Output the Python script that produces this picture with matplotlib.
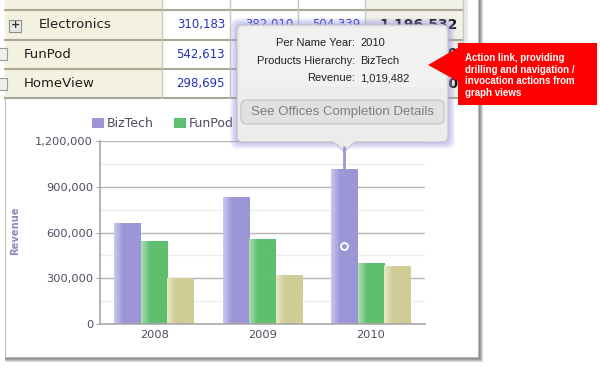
import numpy as np
import matplotlib
matplotlib.use("Agg")
import matplotlib.pyplot as plt
from matplotlib.colors import LinearSegmentedColormap
from matplotlib.patches import Rectangle, FancyBboxPatch, Polygon, Patch
from matplotlib.ticker import MultipleLocator, FuncFormatter

# chart data
years = ["2008", "2009", "2010"]
products = ["BizTech", "FunPod", "HomeView"]
biztech = [662000, 833000, 1019482]
funpod = [542613, 557000, 402157]
homeview = [298695, 322620, 378245]

# pivot table rows above the graph (cells hidden under the tooltip left blank)
table_rows = ["Electronics", "FunPod", "HomeView"]
table_2008 = ["310,183", "542,613", "298,695"]
table_2009 = ["382,010", "", ""]
table_2010 = ["504,339", "", ""]
table_total = ["1,196,532", "1,501,750", "999,560"]

tip_labels = ["Per Name Year:", "Products Hierarchy:", "Revenue:"]
tip_values = ["2010", "BizTech", "1,019,482"]
callout_lines = ["Action link, providing", "drilling and navigation /",
                 "invocation actions from", "graph views"]

plt.rcParams["font.family"] = ["DejaVu Sans"]
W, H = 600, 368
fig = plt.figure(figsize=(W / 100, H / 100), dpi=100)


def overlay(z):
    a = fig.add_axes([0, 0, 1, 1], zorder=z)
    a.set_xlim(0, W)
    a.set_ylim(H, 0)
    a.axis("off")
    a.patch.set_alpha(0)
    return a


bg = overlay(0)
ax = fig.add_axes([100 / W, 1 - 324 / H, 325 / W, 183 / H], zorder=1)
fg = overlay(2)

# panel with drop shadow
for d in range(1, 6):
    bg.add_patch(Rectangle((5, -10), 473 + d, 367 + d, fc="black", ec="none", alpha=0.14))
bg.add_patch(Rectangle((5, -10), 473, 367, fc="white", ec="#BDBDBD", lw=0.8))

# table
col_x = [5, 162, 230, 298, 365, 463]
row_y = [-20, 10, 39.5, 69, 98]
fills = ["#F3F1DF", "white", "white", "white", "#F1F1EA"]
for r in range(len(row_y) - 1):
    for c in range(len(col_x) - 1):
        bg.add_patch(Rectangle((col_x[c], row_y[r]), col_x[c + 1] - col_x[c],
                               row_y[r + 1] - row_y[r], fc=fills[c], ec="none"))
for y in row_y[1:]:
    bg.plot([5, 463], [y, y], color="#A9A794", lw=1.5)
for x in col_x[1:]:
    bg.plot([x, x], [-20, 98], color="#C9C8BC", lw=1)
bg.add_patch(Rectangle((463, -10), 5, 108, fc="#DDDDDD", ec="none", alpha=0.6))

bg.add_patch(Rectangle((9, 19.5), 12, 12, fc="#E9E9E4", ec="#8E8E8E", lw=0.8))
bg.text(15, 25.5, "+", ha="center", va="center", fontsize=8, fontweight="bold", color="#333333")
for r in (1, 2):
    yc = (row_y[r + 1] + row_y[r + 2]) / 2
    bg.add_patch(Rectangle((-4, yc - 6), 11, 12, fc="#EEEEEA", ec="#9A9A9A", lw=0.8))

for i, name in enumerate(table_rows):
    yc = (row_y[i + 1] + row_y[i + 2]) / 2
    bg.text(39 if i == 0 else 24, yc, name, ha="left", va="center", fontsize=9.5, color="#1E1E1E")
    for c, vals in enumerate([table_2008, table_2009, table_2010]):
        if vals[i]:
            bg.text(col_x[c + 2] - 5, yc, vals[i], ha="right", va="center", fontsize=8.5,
                    color="#2233BB")
    bg.text(col_x[5] - 5, yc, table_total[i], ha="right", va="center", fontsize=10,
            fontweight="bold", color="#111111")

# bar chart
colors = {
    "BizTech": ("#CBC7EE", "#9C96D7"),
    "FunPod": ("#ACDFB3", "#5EBF6F"),
    "HomeView": ("#E9E7C6", "#CFCC95"),
}
x = np.arange(len(years))
w = 0.245
grad = np.linspace(0, 1, 64).reshape(1, -1)
for k, (name, vals) in enumerate(zip(products, [biztech, funpod, homeview])):
    light, dark = colors[name]
    bars = ax.bar(x + (k - 1) * w, vals, w, color=dark, label=name, zorder=2)
    cmap = LinearSegmentedColormap.from_list(name, [light, dark, dark, dark])
    for b in bars:
        x0 = b.get_x()
        im = ax.imshow(grad, cmap=cmap, aspect="auto", interpolation="bilinear", zorder=2.1,
                       extent=(x0, x0 + b.get_width(), 0, b.get_height()))
        im.set_clip_path(b)

ax.plot(x[2] - w, biztech[2] / 2, "o", ms=5, mfc="#9C96D7", mec="white", mew=1.3, zorder=3)

ax.set_xlim(-0.5, 2.5)
ax.set_ylim(0, 1200000)
ax.set_xticks(x, years)
ax.yaxis.set_major_locator(MultipleLocator(300000))
ax.yaxis.set_minor_locator(MultipleLocator(150000))
ax.yaxis.set_major_formatter(FuncFormatter(lambda v, p: f"{int(v):,}"))
ax.set_axisbelow(True)
ax.grid(axis="y", which="major", color="#B4B4B4", lw=1)
ax.grid(axis="y", which="minor", color="#EEEEEE", lw=1)
ax.patch.set_alpha(0)
for s in ("top", "right"):
    ax.spines[s].set_visible(False)
for s in ("left", "bottom"):
    ax.spines[s].set_color("#A8A8A8")
    ax.spines[s].set_linewidth(1.2)
ax.tick_params(axis="y", which="major", length=3, color="#A8A8A8", pad=2,
               labelsize=8.2, labelcolor="#4C4C62")
ax.tick_params(axis="y", which="minor", length=0)
ax.tick_params(axis="x", length=0, pad=4, labelsize=8.2, labelcolor="#4C4C62")
ax.set_ylabel("Revenue", fontsize=7.2, fontweight="bold", color="#8C8ABA")
ax.yaxis.set_label_coords(-0.246, 0.508)

handles = [Patch(fc=colors[n][1], ec="none", label=n) for n in products]
ax.legend(handles=handles, ncol=3, loc="center left", bbox_to_anchor=(92, 123.5),
          bbox_transform=fg.transData, frameon=False, borderpad=0, borderaxespad=0,
          handlelength=0.95, handleheight=0.9, handletextpad=0.25, columnspacing=1.6,
          fontsize=9, labelcolor="#4C4C62")

# tooltip over the 2010 BizTech bar
to_px = fg.transData.inverted()
px, top_y = to_px.transform(ax.transData.transform((x[2] - w, biztech[2])))
tx0, ty0, tx1, ty1 = 237, 25, 448, 142
for g in range(7, 0, -1):
    fg.add_patch(FancyBboxPatch((tx0 - g, ty0 - g), tx1 - tx0 + 2 * g, ty1 - ty0 + 2 * g,
                                boxstyle="round,pad=0,rounding_size=8", fc="#9C94E2",
                                ec="none", alpha=0.1))
fg.plot([px, px], [ty1 + 4, top_y], color="#9C96D7", lw=2, solid_capstyle="butt")
fg.add_patch(Polygon([(px - 11, ty1 - 1), (px, ty1 + 10), (px + 11, ty1 - 1)],
                     fc="#ECECEC", ec="#C4C4C4", lw=0.8))
fg.add_patch(FancyBboxPatch((tx0, ty0), tx1 - tx0, ty1 - ty0,
                            boxstyle="round,pad=0,rounding_size=6", fc="#ECECEC",
                            ec="#C4C4C4", lw=0.8))
fg.add_patch(Rectangle((px - 10, ty1 - 2), 20, 2.5, fc="#ECECEC", ec="none"))
fg.add_patch(Rectangle((tx0 + 3, ty0 + 3), tx1 - tx0 - 6, 59, fc="#F1F1F1", ec="none"))
for i, (lab, val) in enumerate(zip(tip_labels, tip_values)):
    yy = 43 + i * 17.6
    fg.text(355, yy, lab, ha="right", va="center", fontsize=8, family="Liberation Sans", color="#222222")
    fg.text(360, yy, val, ha="left", va="center", fontsize=8, family="Liberation Sans", color="#222222")
fg.add_patch(FancyBboxPatch((241, 100), 203, 24, boxstyle="round,pad=0,rounding_size=6",
                            fc="#E1E1E1", ec="#C6C6C6", lw=0.9))
fg.text(342.5, 112.5, "See Offices Completion Details", ha="center", va="center",
        fontsize=9.5, family="Liberation Sans", color="#7E7E7E")

# red annotation callout
fg.add_patch(Polygon([(459, 47), (428, 65), (459, 82)], fc="#FF0000", ec="none"))
fg.add_patch(Rectangle((458, 43), 139, 62, fc="#FF0000", ec="none"))
for i, line in enumerate(callout_lines):
    fg.text(465, 58.3 + i * 11.5, line, ha="left", va="center", fontsize=7,
            fontweight="bold", family="Liberation Sans", color="white")

fig.savefig("out.png", dpi=100)
